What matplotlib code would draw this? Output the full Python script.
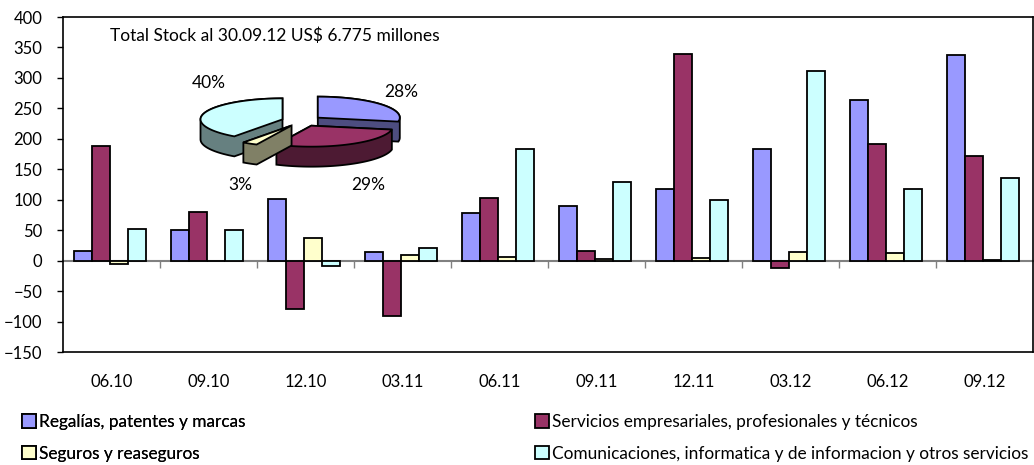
import matplotlib.pyplot as plt
from matplotlib.patches import Polygon, Patch
import numpy as np

plt.rcParams['font.family'] = 'Lato'
plt.rcParams['font.size'] = 11.5

# ---------------------------------------------------------------------------------------------------------------------
# data
periods = ['06.10', '09.10', '12.10', '03.11', '06.11', '09.11', '12.11', '03.12', '06.12', '09.12']
regalias = [16, 51, 102, 14, 79, 90, 118, 184, 263, 337]
servicios = [189, 80, -79, -91, 103, 16, 339, -12, 192, 171]
seguros = [-5, -1, 37, 10, 6, 2, 5, 14, 12, 1]
comunicaciones = [52, 51, -8, 21, 184, 129, 99, 312, 118, 135]

series_names = ['Regalías, patentes y marcas',
                'Servicios empresariales, profesionales y técnicos',
                'Seguros y reaseguros',
                'Comunicaciones, informatica y de informacion y otros servicios']
top_colors = ['#9999FF', '#993366', '#FFFFCC', '#CCFFFF']
side_colors = ['#4D4D80', '#4D1A33', '#808066', '#668080']

pie_shares = [28, 29, 3, 40]
pie_labels = ['28%', '29%', '3%', '40%']
pie_title = 'Total Stock al 30.09.12 US$ 6.775 millones'
yticks = list(range(-150, 401, 50))

W, H = 1034, 465


# ---------------------------------------------------------------------------------------------------------------------
def hull(pts):
    """monotone chain convex hull"""
    pts = sorted(map(tuple, pts))

    def cross(o, a, b):
        return (a[0] - o[0]) * (b[1] - o[1]) - (a[1] - o[1]) * (b[0] - o[0])

    lower, upper = [], []
    for p in pts:
        while len(lower) >= 2 and cross(lower[-2], lower[-1], p) <= 0:
            lower.pop()
        lower.append(p)
    for p in reversed(pts):
        while len(upper) >= 2 and cross(upper[-2], upper[-1], p) <= 0:
            upper.pop()
        upper.append(p)
    return np.array(lower[:-1] + upper[:-1])


def wedge_pts(cx, cy, rx, ry, t1, t2):
    t = np.radians(np.linspace(t1, t2, 60))
    xs = np.r_[cx, cx + rx * np.cos(t)]
    ys = np.r_[cy, cy - ry * np.sin(t)]
    return np.column_stack([xs, ys])


# ---------------------------------------------------------------------------------------------------------------------
fig = plt.figure(figsize=(W / 100, H / 100), dpi=100)
ax = fig.add_axes([63 / W, 1 - 352 / H, (1033 - 63) / W, (352 - 17) / H])

x = np.arange(len(periods))
bw = 0.185
for k, vals in enumerate([regalias, servicios, seguros, comunicaciones]):
    ax.bar(x + (k - 1.5) * bw - 0.015, vals, bw, color=top_colors[k],
           edgecolor='black', linewidth=1.3, zorder=3)

ax.set_xlim(-0.5, len(periods) - 0.5)
ax.set_ylim(-150, 400)
ax.set_yticks(yticks)
ax.set_xticks(x)
ax.set_xticklabels(periods)
ax.tick_params(axis='x', length=0, pad=16, labelsize=12)
ax.tick_params(axis='y', length=4.5, width=1, pad=10.5, labelsize=12)
for s in ax.spines.values():
    s.set_linewidth(1.2)

# category axis crossing at zero
zero = (0 - ax.get_ylim()[0]) / (ax.get_ylim()[1] - ax.get_ylim()[0])
sec = ax.secondary_xaxis(zero)
sec.set_xticks(np.arange(0.5, len(periods) - 1, 1))
sec.tick_params(length=5, width=1, color='#808080', labelbottom=False)
sec.spines['bottom'].set_color('#808080')
sec.spines['bottom'].set_linewidth(1.5)

# legend in two columns
h = [Patch(facecolor=c, edgecolor='black', linewidth=1.3) for c in top_colors]
leg_kw = dict(loc='upper left', frameon=False, handlelength=0.8, handleheight=0.8,
              handletextpad=0.2, labelspacing=0.9, fontsize=12.4, borderaxespad=0,
              borderpad=0)
leg1 = fig.legend([h[0], h[2]], [series_names[0], series_names[2]],
                  bbox_to_anchor=(22 / W, 1 - 414 / H), **leg_kw)
leg2 = fig.legend([h[1], h[3]], [series_names[1], series_names[3]],
                  bbox_to_anchor=(535 / W, 1 - 414 / H), **leg_kw)
fig.add_artist(leg1)

# ---------------------------------------------------------------------------------------------------------------------
# exploded 3D pie inset, drawn in pixel coordinates
pax = fig.add_axes([0, 0, 1, 1], zorder=5)
pax.set_xlim(0, W)
pax.set_ylim(H, 0)
pax.axis('off')
pax.patch.set_alpha(0)

pax.text(110, 36, pie_title, fontsize=12.5, va='center', ha='left')

cx, cy, rx, ry, depth, explode = 302, 121, 82, 21, 20, 0.25
bounds = 90 - 3.6 * np.r_[0, np.cumsum(pie_shares)]
shapes = []
for i in range(len(pie_shares)):
    t1, t2 = bounds[i + 1], bounds[i]
    mid = np.radians((t1 + t2) / 2)
    ox = cx + explode * rx * np.cos(mid)
    oy = cy - explode * ry * np.sin(mid)
    top = wedge_pts(ox, oy, rx, ry, t1, t2)
    bottom = top + [0, depth]
    shapes.append((top, hull(np.vstack([top, bottom]))))

for i in [3, 0, 1, 2]:
    top, body = shapes[i]
    pax.add_patch(Polygon(body, closed=True, facecolor=side_colors[i], edgecolor='black', linewidth=1.3))
    pax.add_patch(Polygon(top, closed=True, facecolor=top_colors[i], edgecolor='black', linewidth=1.3))

label_pos = [(401, 92), (368, 185), (240, 185), (209, 83)]
for lab, (lx, ly) in zip(pie_labels, label_pos):
    pax.text(lx, ly, lab, fontsize=12.5, ha='center', va='center')

fig.savefig('out.png', dpi=100)
